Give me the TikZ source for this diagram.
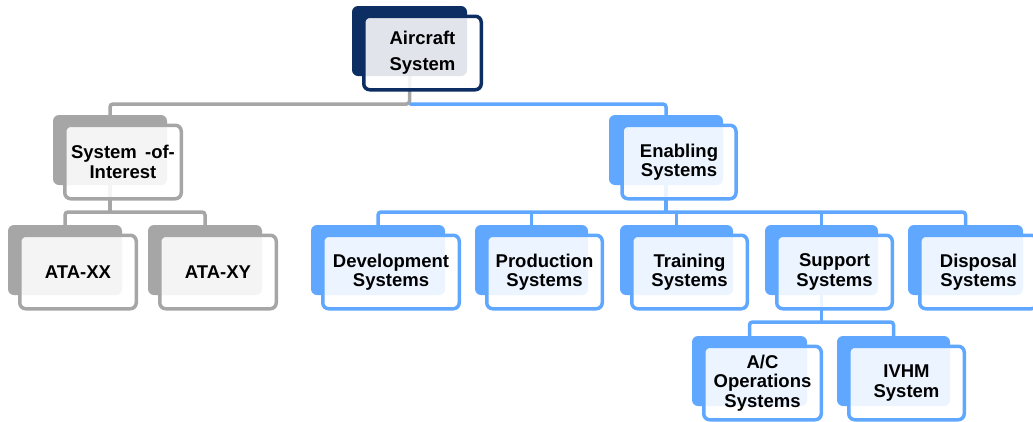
\documentclass[tikz,border=0pt]{standalone}
\usepackage{fontspec}
\setmainfont{Liberation Sans}
\usepackage{xcolor}
\usepackage{tikz}
\usetikzlibrary{calc,positioning,backgrounds}

\definecolor{acnavy}{RGB}{12,46,98}
\definecolor{acgrey}{RGB}{166,166,166}
\definecolor{acblue}{RGB}{96,168,255}

\begin{document}
\begin{tikzpicture}[
    x=1pt, y=-1pt,
    backbox/.style={
      rectangle,
      rounded corners=6pt,
      fill=#1,
      draw=none,
      minimum height=70pt,
      inner sep=0pt
    },
    frontbox/.style={
      rectangle,
      rounded corners=6pt,
      draw=#1,
      line width=3.5pt,
      fill=white,
      fill opacity=0.88,
      text opacity=1,
      minimum height=73.5pt,
      inner sep=0pt,
      align=center,
      font=\bfseries\fontsize{18.5}{19.5}\selectfont
    },
    link/.style={
      draw=#1,
      line width=3.5pt,
      rounded corners=3pt
    }
  ]

    \clip (0,0) rectangle (1033,421);

    % Top level
    \node[backbox=acnavy, minimum width=115pt] (ac) at (409.5,41) {};
    \node[frontbox=acnavy, minimum width=117.5pt, font=\bfseries\fontsize{18.5}{26}\selectfont] (ac-f) at ([xshift=13pt,yshift=-12pt]ac.center) {Aircraft\\System};

    % Second level
    \node[backbox=acgrey, minimum width=114pt] (soi) at (110,150) {};
    \node[frontbox=acgrey, minimum width=116.5pt] (soi-f) at ([xshift=13pt,yshift=-12pt]soi.center) {System \,-of-\\Interest};

    \node[backbox=acblue, minimum width=114pt] (en) at (666,150) {};
    \node[frontbox=acblue, minimum width=114pt] (en-f) at ([xshift=13pt,yshift=-12pt]en.center) {Enabling\\Systems};

    % Third level (system-of-interest)
    \node[backbox=acgrey, minimum width=114pt] (ataxx) at (65,260) {};
    \node[frontbox=acgrey, minimum width=116.5pt] (ataxx-f) at ([xshift=13pt,yshift=-12pt]ataxx.center) {ATA-XX};

    \node[backbox=acgrey, minimum width=114pt] (ataxy) at (205,260) {};
    \node[frontbox=acgrey, minimum width=116.5pt] (ataxy-f) at ([xshift=13pt,yshift=-12pt]ataxy.center) {ATA-XY};

    % Third level (enabling systems)
    \node[backbox=acblue, minimum width=134pt] (dev) at (378,260) {};
    \node[frontbox=acblue, minimum width=136.5pt] (dev-f) at ([xshift=13pt,yshift=-12pt]dev.center) {Development\\Systems};

    \node[backbox=acblue, minimum width=113pt] (prod) at (531.5,260) {};
    \node[frontbox=acblue, minimum width=115.5pt] (prod-f) at ([xshift=13pt,yshift=-12pt]prod.center) {Production\\Systems};

    \node[backbox=acblue, minimum width=113pt] (train) at (676.5,260) {};
    \node[frontbox=acblue, minimum width=115.5pt] (train-f) at ([xshift=13pt,yshift=-12pt]train.center) {Training\\Systems};

    \node[backbox=acblue, minimum width=113pt] (supp) at (821.5,260) {};
    \node[frontbox=acblue, minimum width=115.5pt] (supp-f) at ([xshift=13pt,yshift=-12pt]supp.center) {Support\\Systems};

    \node[backbox=acblue, minimum width=115pt] (disp) at (965.5,260) {};
    \node[frontbox=acblue, minimum width=117.5pt] (disp-f) at ([xshift=13pt,yshift=-12pt]disp.center) {Disposal\\Systems};

    % Fourth level (support systems)
    \node[backbox=acblue, minimum width=115pt] (acops) at (749.5,371) {};
    \node[frontbox=acblue, minimum width=117.5pt] (acops-f) at ([xshift=13pt,yshift=-12pt]acops.center) {A/C\\Operations\\Systems};

    \node[backbox=acblue, minimum width=113pt] (ivhm) at (893.5,371) {};
    \node[frontbox=acblue, minimum width=115.5pt] (ivhm-f) at ([xshift=13pt,yshift=-12pt]ivhm.center) {IVHM\\System};

    % Bus levels
    \coordinate (bus0) at (0,104);
    \coordinate (bus1) at (0,212);
    \coordinate (bus2) at (0,322);

    % Connectors (behind the boxes)
    \begin{pgfonlayer}{background}
      \draw[link=acgrey] (ac.center) -- (ac |- bus0) -| (soi.center);
      \draw[link=acblue] (ac |- bus0) -| (en.center);

      \draw[link=acgrey] (soi.center) -- (soi |- bus1);
      \draw[link=acgrey] (ataxx.center) |- (bus1 -| ataxy) -- (ataxy.center);

      \draw[link=acblue] (en.center) -- (en |- bus1);
      \draw[link=acblue] (dev.center) |- (bus1 -| disp) -- (disp.center);
      \foreach \n in {prod, train, supp} {
        \draw[link=acblue] (\n |- bus1) -- (\n.center);
      }

      \draw[link=acblue] (supp.center) -- (supp |- bus2);
      \draw[link=acblue] (acops.center) |- (bus2 -| ivhm) -- (ivhm.center);
    \end{pgfonlayer}

  \end{tikzpicture}
\end{document}
